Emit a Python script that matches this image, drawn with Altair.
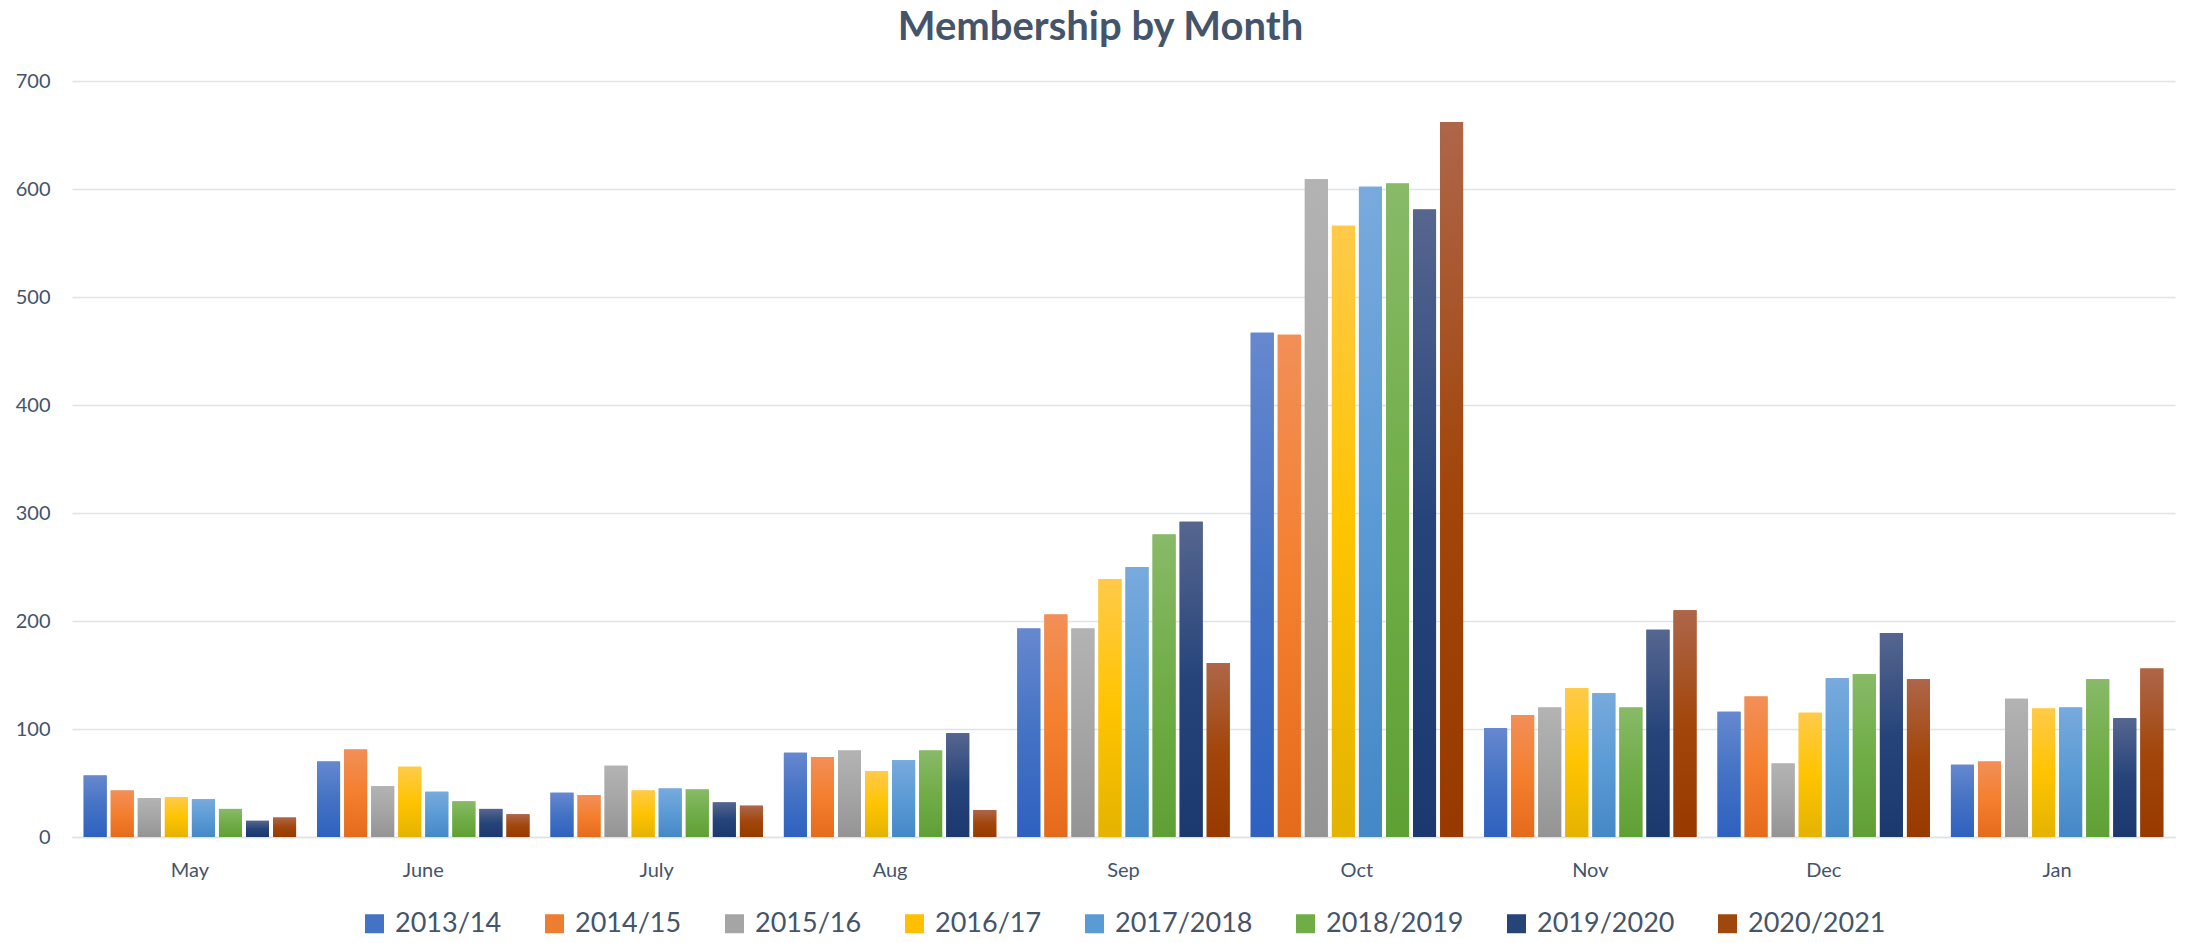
import altair as alt
import pandas as pd

months = ["May", "June", "July", "Aug", "Sep", "Oct", "Nov", "Dec", "Jan"]
seasons = ["2013/14", "2014/15", "2015/16", "2016/17",
           "2017/2018", "2018/2019", "2019/2020", "2020/2021"]

s2013_14 = [57, 70, 41, 78, 193, 467, 101, 116, 67]
s2014_15 = [43, 81, 39, 74, 206, 465, 113, 130, 70]
s2015_16 = [36, 47, 66, 80, 193, 609, 120, 68, 128]
s2016_17 = [37, 65, 43, 61, 239, 566, 138, 115, 119]
s2017_18 = [35, 42, 45, 71, 250, 602, 133, 147, 120]
s2018_19 = [26, 33, 44, 80, 280, 605, 120, 151, 146]
s2019_20 = [15, 26, 32, 96, 292, 581, 192, 189, 110]
s2020_21 = [18, 21, 29, 25, 161, 662, 210, 146, 156]

series_values = [s2013_14, s2014_15, s2015_16, s2016_17,
                 s2017_18, s2018_19, s2019_20, s2020_21]

base_colors = ["#4472c4", "#ed7d31", "#a5a5a5", "#ffc000",
               "#5b9bd5", "#70ad47", "#264478", "#9e480e"]
# (top, middle, bottom) gradient tints
grad_colors = [
    ("#6688cf", "#4472c4", "#2e61c0"),
    ("#f28f58", "#f47f2e", "#e56b1c"),
    ("#b3b3b3", "#a5a5a5", "#949494"),
    ("#ffca4a", "#ffc400", "#e4b300"),
    ("#78aadd", "#5b9bd5", "#4588c7"),
    ("#88ba68", "#70ad47", "#5fa035"),
    ("#56668f", "#26447a", "#1b386f"),
    ("#ae6649", "#a2460c", "#983a00"),
]

rows = []
for s, vals in zip(seasons, series_values):
    for m, v in zip(months, vals):
        rows.append({"Month": m, "Season": s, "Members": v})
df = pd.DataFrame(rows)

FONT = "Lato"
TEXT_COLOR = "#44546a"

x_enc = alt.X("Month:N", sort=months,
              scale=alt.Scale(paddingInner=0.09, paddingOuter=0.05),
              axis=alt.Axis(title=None, labelAngle=0, ticks=False,
                            labelPadding=23, labelFontSize=20,
                            labelFont=FONT, labelColor=TEXT_COLOR,
                            domain=True, domainColor="#dfe3e8",
                            domainWidth=1.5, grid=False))
xoff_enc = alt.XOffset("Season:N",
                       scale=alt.Scale(domain=seasons, paddingInner=0.15,
                                       paddingOuter=0))
y_enc = alt.Y("Members:Q",
              scale=alt.Scale(domain=[0, 700], nice=False),
              axis=alt.Axis(title=None, values=list(range(0, 701, 100)),
                            ticks=False, domain=False, labelPadding=22,
                            labelFontSize=20, labelFont=FONT,
                            labelColor=TEXT_COLOR, grid=True,
                            gridColor="#dfe3e8", gridWidth=1.5))

base = alt.Chart(df).mark_bar().encode(
    x=x_enc,
    xOffset=xoff_enc,
    y=y_enc,
    color=alt.Color("Season:N",
                    scale=alt.Scale(domain=seasons, range=base_colors),
                    title=None,
                    legend=alt.Legend(orient="none", legendX=289, legendY=829,
                                      direction="horizontal", columns=8,
                                      symbolType="square", symbolSize=361,
                                      symbolStrokeWidth=0, labelFontSize=27,
                                      labelFont=FONT, labelColor=TEXT_COLOR,
                                      labelOffset=7, columnPadding=39,
                                      padding=0)),
)

layers = [base]
for s, (top, mid, bot) in zip(seasons, grad_colors):
    grad = alt.Gradient(
        gradient="linear",
        stops=[alt.GradientStop(color=top, offset=0),
               alt.GradientStop(color=mid, offset=0.5),
               alt.GradientStop(color=bot, offset=1)],
        x1=0, x2=0, y1=0, y2=1,
    )
    layers.append(
        alt.Chart(df).transform_filter(alt.datum.Season == s)
        .mark_bar(color=grad).encode(x=x_enc, xOffset=xoff_enc, y=y_enc)
    )

chart = alt.layer(*layers).properties(
    width=2103,
    height=756,
    autosize="none",
    padding={"left": 64, "top": 73, "right": 3, "bottom": 106},
    title=alt.TitleParams("Membership by Month", font=FONT, fontSize=40,
                          fontWeight="bold", color=TEXT_COLOR,
                          anchor="middle", offset=23, dx=-23),
).configure_view(stroke=None)

chart.save("out.html", embed_options={"renderer": "svg", "actions": False})
